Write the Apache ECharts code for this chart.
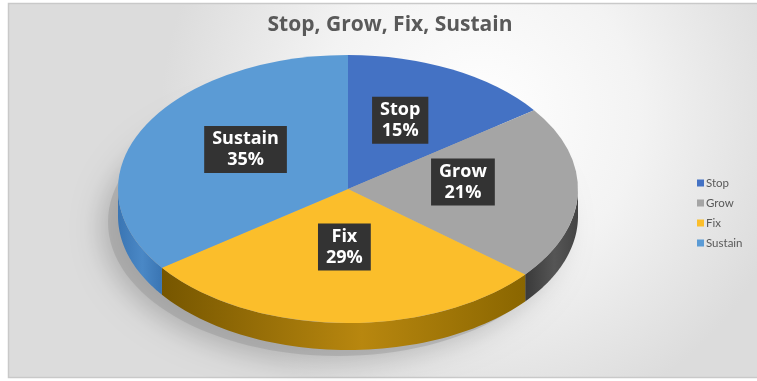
<!DOCTYPE html>
<html>
<head>
<meta charset="utf-8">
<script src="https://cdn.jsdelivr.net/npm/echarts@6/dist/echarts.min.js"></script>
<style>html,body{margin:0;padding:0;background:#fff}#c{width:757px;height:381px}</style>
</head>
<body>
<div id="c"></div>
<script>
const categories = ['Stop', 'Grow', 'Fix', 'Sustain'];
const values = [15, 21, 29, 35];
const topColors = ['#4472C4', '#A5A5A5', '#FBBE2B', '#5B9BD5'];
const sideColors = [
  ['#2f5597', '#3a63ad', '#2f5597'],
  ['#3a3a3a', '#555555', '#444444'],
  ['#765600', '#b8870f', '#8a6600'],
  ['#3a75b3', '#4a88c6', '#3a75b3']
];
const titleText = 'Stop, Grow, Fix, Sustain';

const CX = 348, CY = 189, RX = 230, RY = 134, DEPTH = 27, LABEL_LIFT = 9;
const total = values.reduce((a, b) => a + b, 0);

function sliceAngles(i) {
  let before = 0;
  for (let k = 0; k < i; k++) before += values[k];
  const s = before / total * Math.PI * 2 - Math.PI / 2;
  const e = s + values[i] / total * Math.PI * 2;
  return [s, e];
}

function makeRender(i) {
  return function (params, api) {
    const v = api.value(0);
    const [s, e] = sliceAngles(i);
    const children = [];
    if (i === 0) {
      children.push({
        type: 'ellipse',
        shape: { cx: CX - 10, cy: CY + DEPTH + 6, rx: RX, ry: RY },
        style: { fill: 'rgba(150,150,150,0.45)', shadowBlur: 28, shadowColor: 'rgba(0,0,0,0.45)', shadowOffsetX: -6, shadowOffsetY: 6 },
        z2: -10
      });
    }
    const segs = [[s, e], [s - 2 * Math.PI, e - 2 * Math.PI]];
    segs.forEach(([a0, a1]) => {
      const t0 = Math.max(a0, 0), t1 = Math.min(a1, Math.PI);
      if (t1 > t0) {
        const pts = [];
        const n = 60;
        for (let k = 0; k <= n; k++) {
          const t = t0 + (t1 - t0) * k / n;
          pts.push([CX + RX * Math.cos(t), CY + RY * Math.sin(t)]);
        }
        for (let k = n; k >= 0; k--) {
          const t = t0 + (t1 - t0) * k / n;
          pts.push([CX + RX * Math.cos(t), CY + DEPTH + RY * Math.sin(t)]);
        }
        const sc = sideColors[i];
        children.push({
          type: 'polygon',
          shape: { points: pts },
          style: {
            fill: {
              type: 'linear', x: 0, y: 0, x2: 1, y2: 0,
              colorStops: [{ offset: 0, color: sc[0] }, { offset: 0.55, color: sc[1] }, { offset: 1, color: sc[2] }]
            }
          },
          z2: 0
        });
      }
    });
    children.push({
      type: 'group',
      x: CX, y: CY, scaleY: RY / RX,
      children: [{
        type: 'sector',
        shape: { cx: 0, cy: 0, r0: 0, r: RX, startAngle: s, endAngle: e, clockwise: true },
        style: { fill: topColors[i] },
        z2: 1
      }]
    });
    const mid = (s + e) / 2;
    const lx = CX + RX * 0.5 * Math.cos(mid);
    const ly = CY - LABEL_LIFT + RY * 0.5 * Math.sin(mid);
    children.push({
      type: 'text',
      x: lx, y: ly,
      z2: 100,
      style: {
        text: categories[i] + '\n' + Math.round(v / total * 100) + '%',
        fill: '#ffffff',
        font: 'bold 18px "Open Sans", sans-serif',
        lineHeight: 21,
        align: 'center',
        verticalAlign: 'middle',
        backgroundColor: '#333333',
        padding: [3, 8, 2, 8],
        boxShadowBlur: 5,
        boxShadowColor: 'rgba(0,0,0,0.45)',
        boxShadowOffsetX: 1,
        boxShadowOffsetY: 2
      }
    });
    return { type: 'group', children: children };
  };
}

const chart = echarts.init(document.getElementById('c'));
chart.setOption({
  animation: false,
  backgroundColor: '#ffffff',
  graphic: [{
    type: 'rect',
    shape: { x: 8.5, y: 3.5, width: 760, height: 374 },
    style: {
      stroke: '#c9c9c9', lineWidth: 1.5,
      fill: {
        type: 'radial', x: 0.62, y: 0.3, r: 0.85,
        colorStops: [{ offset: 0, color: '#ffffff' }, { offset: 0.5, color: '#f3f3f3' }, { offset: 1, color: '#dcdcdc' }]
      }
    },
    z: -10, silent: true
  }],
  title: {
    text: titleText,
    left: 385, top: 10, textAlign: 'center',
    textStyle: { fontFamily: '"Open Sans", sans-serif', fontWeight: 'bold', fontSize: 21, color: '#595959' }
  },
  legend: {
    orient: 'vertical',
    left: 692, top: 172,
    itemWidth: 7, itemHeight: 7, itemGap: 8,
    icon: 'rect',
    data: categories,
    textStyle: { fontFamily: 'Lato, sans-serif', fontSize: 11.5, color: '#595959', padding: [0, 0, 0, -3] }
  },
  series: categories.map((name, i) => ({
    type: 'custom',
    name: name,
    coordinateSystem: 'none',
    itemStyle: { color: topColors[i] },
    renderItem: makeRender(i),
    data: [[values[i]]]
  }))
});
</script>
</body>
</html>
